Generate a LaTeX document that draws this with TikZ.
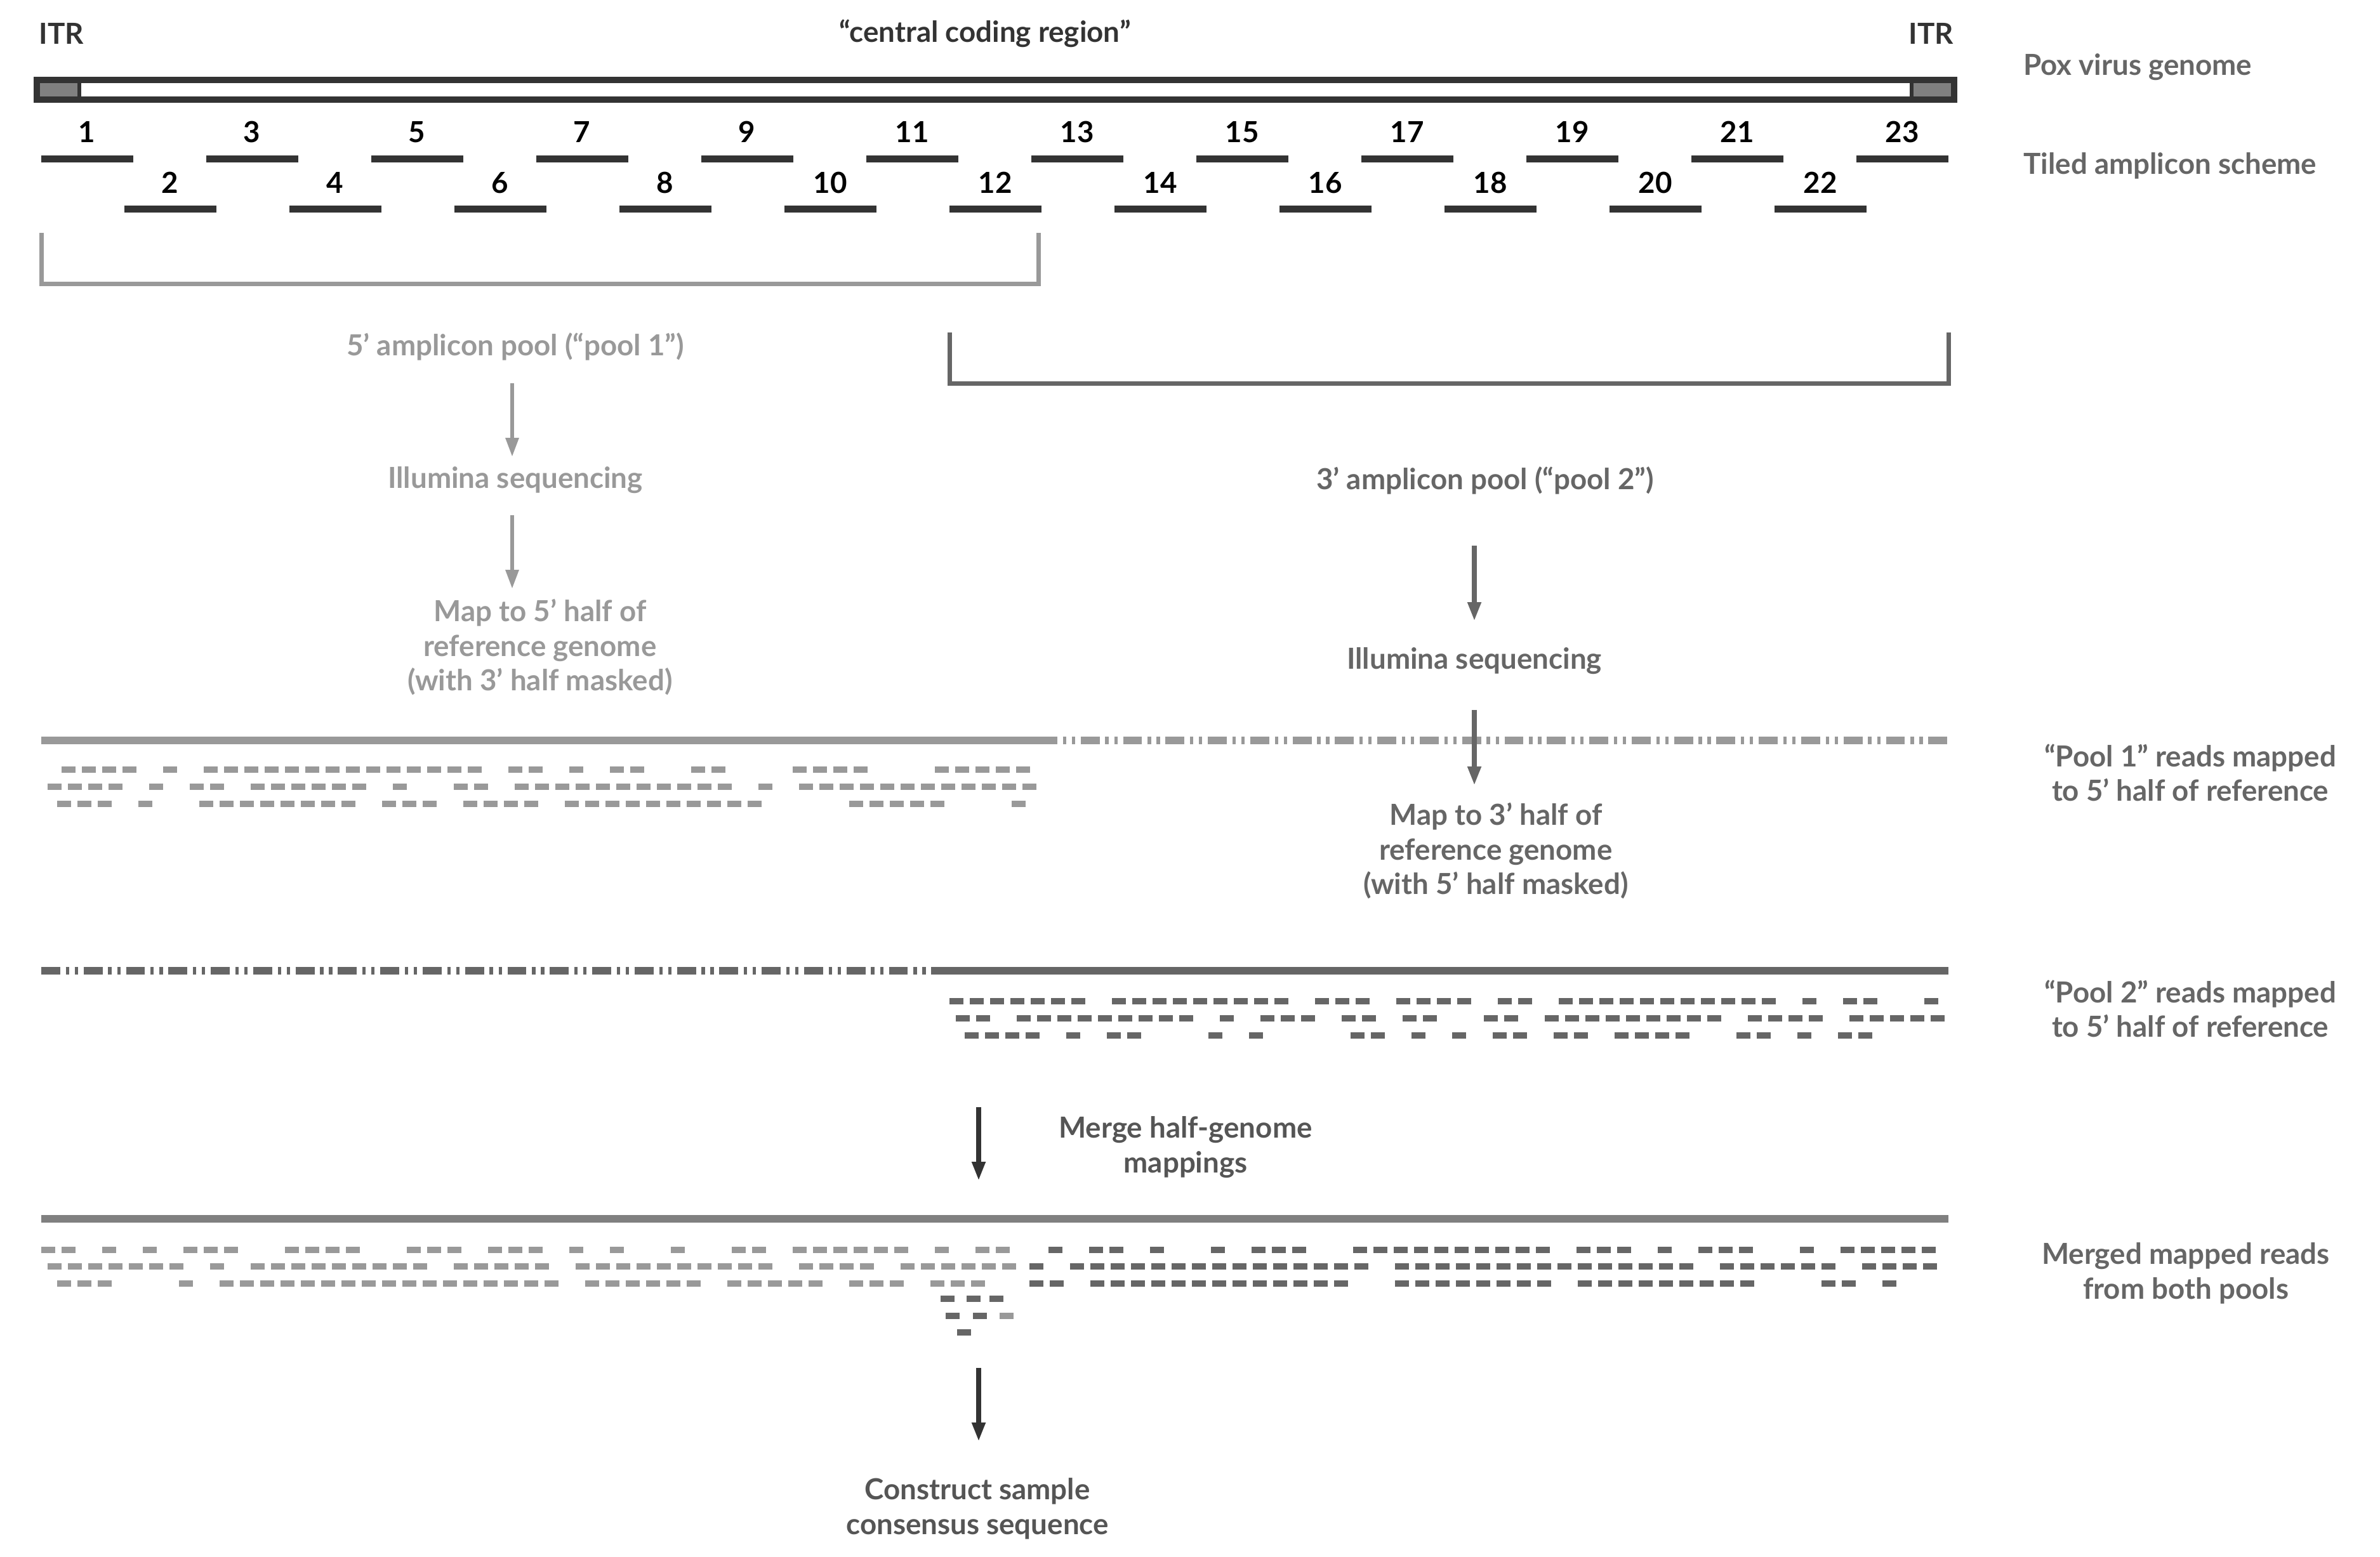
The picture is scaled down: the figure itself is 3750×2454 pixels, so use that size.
\documentclass[tikz,border=0pt]{standalone}
\usepackage{fontspec}
\setmainfont{Lato}
\usetikzlibrary{arrows.meta}
\definecolor{cdark}{HTML}{333333}
\definecolor{cmid}{HTML}{666666}
\definecolor{clight}{HTML}{999999}
\definecolor{cmerge}{HTML}{808080}
\definecolor{ctext}{HTML}{555555}
\newcommand\readrow[5]{%
  \pgfmathtruncatemacro\nn{(#3-#2-22)/32}%
  \foreach \i in {0,...,\nn}{%
    \pgfmathsetmacro\r{rnd}%
    \ifdim\r pt<#5pt
      \fill[#4] ({#2+\i*32},{#1-5}) rectangle ++(22,10);
    \fi}}
\begin{document}
\begin{tikzpicture}[x=0.2mm,y=-0.2mm,
  txt/.style={font=\fontsize{26}{31}\selectfont\bfseries,align=center,inner sep=0pt},
  amp/.style={cdark,line width=11*0.2mm},
  arr/.style={line width=6*0.2mm,-{Triangle[length=30*0.2mm,width=20*0.2mm]}},
  dashdot/.style={dash pattern=on 17pt off 5pt on 3pt off 5pt on 3pt off 5pt}]
\pgfmathsetseed{7}
\useasboundingbox (0,0) rectangle (3750,2454);
% top labels
\node[txt,cdark] (itrl) at (97,53) {ITR};
\node[txt,cdark] (itrr) at (3043,53) {ITR};
\node[txt,cdark] (ccr) at (1552,53) {“central coding region”};
% genome
\draw[cdark,line width=10*0.2mm,fill=white] (58,126) rectangle (3079,157);
\fill[cmerge] (63,131) rectangle (125,152);
\fill[cmerge] (3012,131) rectangle (3074,152);
\draw[cdark,line width=6*0.2mm] (125,131) -- (125,152) (3012,131) -- (3012,152);
\node[txt,cmid,anchor=west] (pox) at (3188,106) {Pox virus genome};
\node[txt,cmid,anchor=west] (tiled) at (3188,261) {Tiled amplicon scheme};
% amplicons
\foreach \j in {0,...,11}{
  \pgfmathtruncatemacro\k{2*\j+1}
  \draw[amp] ({65+\j*260},251) -- ++(145,0);
  \node[txt,black] (a\k) at ({137+\j*260},208) {\k};
}
\foreach \j in {1,...,11}{
  \pgfmathtruncatemacro\k{2*\j}
  \draw[amp] ({196+(\j-1)*260},329) -- ++(145,0);
  \node[txt,black] (a\k) at ({268+(\j-1)*260},288) {\k};
}
% brackets
\draw[clight,line width=7*0.2mm] (65,367) -- (65,447) -- (1636,447) -- (1636,367);
\draw[cmid,line width=7*0.2mm] (1496,524) -- (1496,604) -- (3070,604) -- (3070,524);
% pool 1 flow
\node[txt,clight] (p1) at (812,546) {5’ amplicon pool (“pool 1”)};
\node[txt,clight] (il1) at (812,757) {Illumina sequencing};
\node[txt,clight] (m1) at (851,1020) {Map to 5’ half of\\reference genome\\(with 3’ half masked)};
\coordinate (p1a) at (807,604); \coordinate (p1b) at (807,720);
\coordinate (i1a) at (807,812); \coordinate (i1b) at (807,928);
\draw[arr,clight] (p1a) -- (p1b);
\draw[arr,clight] (i1a) -- (i1b);
% pool 2 flow
\node[txt,cmid] (p2) at (2340,757) {3’ amplicon pool (“pool 2”)};
\node[txt,cmid] (il2) at (2323,1042) {Illumina sequencing};
\node[txt,cmid] (m2) at (2357,1341) {Map to 3’ half of\\reference genome\\(with 5’ half masked)};
\coordinate (p2a) at (2323,860); \coordinate (p2b) at (2323,979);
\coordinate (i2a) at (2323,1119); \coordinate (i2b) at (2323,1238);
\draw[arr,cmid,line width=8*0.2mm] (p2a) -- (p2b);
% pool1 reference
\draw[clight,line width=12*0.2mm] (65,1167) -- (1636,1167);
\draw[clight,line width=12*0.2mm,dashdot] (1636,1167) -- (3070,1167);
\draw[arr,cmid,line width=8*0.2mm] (i2a) -- (i2b);
\readrow{1213}{65}{1636}{clight}{0.75}
\readrow{1240}{75}{1636}{clight}{0.85}
\readrow{1267}{90}{1620}{clight}{0.6}
\node[txt,cmid] (lab1) at (3451,1218) {“Pool 1” reads mapped\\to 5’ half of reference};
% pool2 reference
\draw[cmid,line width=12*0.2mm,dashdot] (65,1530) -- (1496,1530);
\draw[cmid,line width=12*0.2mm] (1496,1530) -- (3070,1530);
\readrow{1578}{1496}{3070}{cmid}{0.75}
\readrow{1605}{1506}{3070}{cmid}{0.85}
\readrow{1632}{1520}{3050}{cmid}{0.6}
\node[txt,cmid] (lab2) at (3451,1590) {“Pool 2” reads mapped\\to 5’ half of reference};
% merge
\coordinate (ma) at (1542,1745); \coordinate (mb) at (1542,1861);
\draw[arr,cdark,line width=8*0.2mm] (ma) -- (mb);
\node[txt,ctext] (merge) at (1868,1808) {Merge half-genome\\mappings};
\draw[cmerge,line width=12*0.2mm] (65,1921) -- (3070,1921);
\readrow{1970}{65}{1614}{clight}{0.75}
\readrow{1996}{75}{1614}{clight}{0.85}
\readrow{2023}{90}{1614}{clight}{0.6}
\readrow{1970}{1620}{3070}{cmid}{0.75}
\readrow{1996}{1590}{3070}{cmid}{0.85}
\readrow{2023}{1622}{3050}{cmid}{0.6}
\fill[cmid] (1482,2042) rectangle ++(22,10);
\fill[cmid] (1523,2042) rectangle ++(22,10);
\fill[cmid] (1559,2042) rectangle ++(22,10);
\fill[cmid] (1490,2069) rectangle ++(22,10);
\fill[cmid] (1533,2069) rectangle ++(22,10);
\fill[clight] (1575,2069) rectangle ++(22,10);
\fill[cmid] (1508,2095) rectangle ++(22,10);
\node[txt,cmid] (lab3) at (3444,2007) {Merged mapped reads\\from both pools};
\coordinate (ca) at (1542,2156); \coordinate (cb) at (1542,2272);
\draw[arr,cdark,line width=8*0.2mm] (ca) -- (cb);
\node[txt,ctext] (cons) at (1540,2378) {Construct sample\\consensus sequence};
\end{tikzpicture}
\end{document}
